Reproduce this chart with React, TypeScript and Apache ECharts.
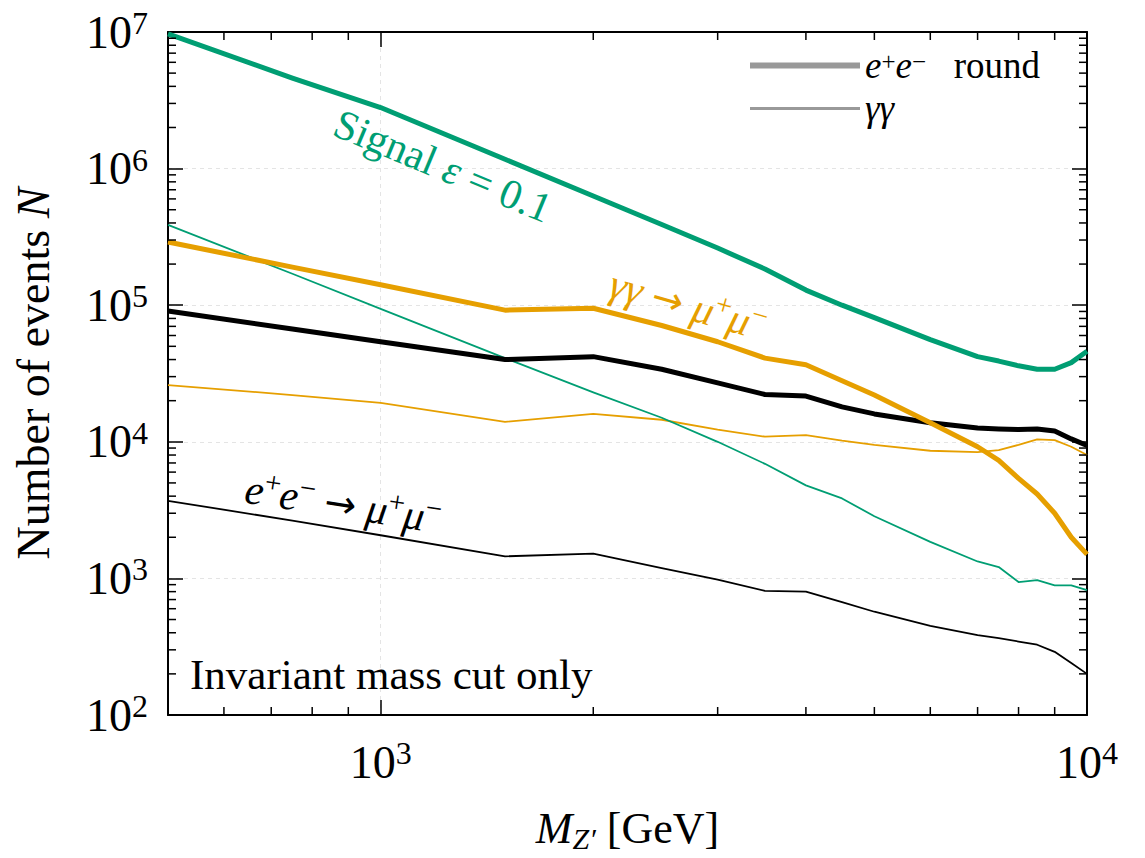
import React, { useEffect, useRef } from 'react';
import * as echarts from 'echarts';

// ---------------- data ----------------
const MASS = [500, 750, 1000, 1500, 2000, 2500, 3000, 3500, 4000, 4500, 5000, 6000, 7000, 7500, 8000, 8500, 9000, 9500, 10000];

// signal, eps = 0.1
const SIGNAL_EE = [9.7e6, 4.6e6, 2.8e6, 1.17e6, 6.3e5, 3.9e5, 2.62e5, 1.84e5, 1.29e5, 1.0e5, 8.1e4, 5.6e4, 4.2e4, 3.9e4, 3.6e4, 3.4e4, 3.4e4, 3.8e4, 4.6e4];
const SIGNAL_GG = [3.87e5, 1.7e5, 9.4e4, 4.1e4, 2.3e4, 1.5e4, 1.0e4, 6.9e3, 4.8e3, 3.85e3, 2.85e3, 1.85e3, 1.33e3, 1.21e3, 9.4e2, 9.7e2, 8.9e2, 8.9e2, 8.2e2];
// gamma gamma -> mu+ mu- background
const GGMM_EE = [2.9e5, 1.9e5, 1.41e5, 9.2e4, 9.5e4, 7.1e4, 5.4e4, 4.1e4, 3.66e4, 2.8e4, 2.2e4, 1.38e4, 9.2e3, 7.3e3, 5.4e3, 4.15e3, 3.0e3, 2.0e3, 1.5e3];
const GGMM_GG = [2.6e4, 2.2e4, 1.93e4, 1.4e4, 1.6e4, 1.45e4, 1.23e4, 1.09e4, 1.12e4, 1.02e4, 9.5e3, 8.6e3, 8.4e3, 8.7e3, 9.5e3, 1.04e4, 1.03e4, 9.2e3, 8.0e3];
// e+ e- -> mu+ mu- background
const EEMM_EE = [9.06e4, 6.7e4, 5.4e4, 4.0e4, 4.2e4, 3.4e4, 2.7e4, 2.22e4, 2.16e4, 1.8e4, 1.6e4, 1.38e4, 1.26e4, 1.24e4, 1.23e4, 1.24e4, 1.2e4, 1.05e4, 9.4e3];
const EEMM_GG = [3.7e3, 2.65e3, 2.07e3, 1.45e3, 1.52e3, 1.19e3, 9.8e2, 8.1e2, 8.0e2, 6.7e2, 5.7e2, 4.5e2, 3.85e2, 3.65e2, 3.45e2, 3.27e2, 2.9e2, 2.4e2, 2.0e2];

const X_MIN = 500;
const X_MAX = 10000;
const Y_MIN = 100;
const Y_MAX = 1e7;
const X_MINOR_TICKS = [600, 700, 800, 900, 2000, 3000, 4000, 5000, 6000, 7000, 8000, 9000];
const Y_MINOR_MULT = [2, 3, 4, 5, 6, 7, 8, 9];
const Y_DECADES = [100, 1000, 10000, 100000, 1000000];

// ---------------- styles ----------------
const FONT = "'Liberation Serif', 'DejaVu Serif', serif";
const ARROW_FONT = "'DejaVu Sans', 'DejaVu Serif', sans-serif";
const GREEN = '#009E73';
const ORANGE = '#E69F00';
const BLACK = '#000000';
const GRAY = '#999999';
const THICK = 5;
const THIN = 1.8;

const pairs = (ys: number[]) => MASS.map((m, i) => [m, ys[i]]);

const powerLabel = (v: number) => {
  const l = Math.log10(v);
  const e = Math.round(l);
  if (Math.abs(l - e) > 1e-6) return '';
  return `{b|10}{s|${e}}`;
};

const tickRich = {
  b: { fontFamily: FONT, fontSize: 46, lineHeight: 50, color: '#000' },
  s: { fontFamily: FONT, fontSize: 32, lineHeight: 24, verticalAlign: 'top', color: '#000' },
};

const txt = (color: string, size: number, lh: number = size + 8) => ({
  r: { fontFamily: FONT, fontSize: size, lineHeight: lh, fill: color, color },
  i: { fontFamily: FONT, fontStyle: 'italic', fontSize: size, lineHeight: lh, fill: color, color },
  a: { fontFamily: ARROW_FONT, fontSize: Math.round(size * 0.9), lineHeight: lh, fill: color, color },
  p: { fontFamily: FONT, fontSize: Math.round(size * 0.68), lineHeight: Math.round(size * 0.5), verticalAlign: 'top', fill: color, color },
});

const lineSeries = (name: string, ys: number[], color: string, width: number) => ({
  name,
  type: 'line',
  data: pairs(ys),
  showSymbol: false,
  symbol: 'none',
  color,
  lineStyle: { color, width, join: 'round' },
  z: 3,
});

const yMinor = Y_DECADES.flatMap((d) => Y_MINOR_MULT.map((m) => m * d));

export default function App() {
  const ref = useRef<HTMLDivElement>(null);

  useEffect(() => {
    if (!ref.current) return;
    const chart = echarts.init(ref.current, null, { renderer: 'svg' });

    const axisLine = { show: true, lineStyle: { color: '#000', width: 2 } };
    const axisTick = { show: true, inside: true, length: 15, lineStyle: { color: '#000', width: 1.5 } };
    const splitLine = { show: true, lineStyle: { color: '#e4e4e4', width: 1, type: [4, 4] } };

    const option: any = {
      animation: false,
      backgroundColor: '#fff',
      grid: { left: 168, right: 58, top: 32, bottom: 139 },
      xAxis: [
        {
          type: 'log',
          logBase: 10,
          min: X_MIN,
          max: X_MAX,
          position: 'bottom',
          axisLine,
          axisTick,
          splitLine,
          axisLabel: { formatter: powerLabel, rich: tickRich, margin: 22 },
          name: '{i|M}{z|Z′}{r| [GeV]}',
          nameLocation: 'middle',
          nameGap: 88,
          nameTextStyle: {
            rich: {
              i: { fontFamily: FONT, fontStyle: 'italic', fontSize: 44, lineHeight: 50, color: '#000' },
              z: { fontFamily: FONT, fontStyle: 'italic', fontSize: 30, lineHeight: 30, verticalAlign: 'bottom', color: '#000' },
              r: { fontFamily: FONT, fontSize: 44, lineHeight: 50, color: '#000' },
            },
          },
        },
        {
          type: 'log',
          logBase: 10,
          min: X_MIN,
          max: X_MAX,
          position: 'top',
          axisLine,
          axisTick,
          splitLine: { show: false },
          axisLabel: { show: false },
        },
      ],
      yAxis: [
        {
          type: 'log',
          logBase: 10,
          min: Y_MIN,
          max: Y_MAX,
          position: 'left',
          axisLine,
          axisTick,
          splitLine,
          axisLabel: { formatter: powerLabel, rich: tickRich, margin: 20 },
          name: '{r|Number of events }{i|N}',
          nameLocation: 'middle',
          nameGap: 110,
          nameTextStyle: {
            rich: {
              r: { fontFamily: FONT, fontSize: 46, lineHeight: 50, color: '#000' },
              i: { fontFamily: FONT, fontStyle: 'italic', fontSize: 46, lineHeight: 50, color: '#000' },
            },
          },
        },
        {
          type: 'log',
          logBase: 10,
          min: Y_MIN,
          max: Y_MAX,
          position: 'right',
          axisLine,
          axisTick,
          splitLine: { show: false },
          axisLabel: { show: false },
        },
      ],
      legend: [
        {
          left: 745,
          top: 42,
          selectedMode: false,
          data: [{ name: 'ee round', icon: 'rect' }],
          itemWidth: 110,
          itemHeight: 6,
          formatter: () => '{i|e}{p|+}{i|e}{p|−}{r|   round}',
          textStyle: { rich: txt('#000', 37, 34) },
        },
        {
          left: 745,
          top: 85,
          selectedMode: false,
          data: [{ name: 'gamma gamma', icon: 'rect' }],
          itemWidth: 110,
          itemHeight: 3,
          formatter: () => '{i|γγ}',
          textStyle: { rich: txt('#000', 37, 34) },
        },
      ],
      series: [
        { name: 'ee round', type: 'line', data: [], color: GRAY, lineStyle: { width: 6 } },
        { name: 'gamma gamma', type: 'line', data: [], color: GRAY, lineStyle: { width: 3 } },
        lineSeries('e+e- -> mu+mu- (gamma gamma)', EEMM_GG, BLACK, THIN),
        lineSeries('gamma gamma -> mu+mu- (gamma gamma)', GGMM_GG, ORANGE, THIN),
        lineSeries('Signal (gamma gamma)', SIGNAL_GG, GREEN, THIN),
        lineSeries('e+e- -> mu+mu- (e+e- round)', EEMM_EE, BLACK, THICK),
        lineSeries('gamma gamma -> mu+mu- (e+e- round)', GGMM_EE, ORANGE, THICK),
        lineSeries('Signal (e+e- round)', SIGNAL_EE, GREEN, THICK),
        {
          name: 'y minor ticks',
          type: 'custom',
          silent: true,
          clip: false,
          z: 6,
          data: yMinor.map((v) => [X_MIN, v]),
          renderItem: (_p: any, api: any) => {
            const a = api.coord([api.value(0), api.value(1)]);
            const b = api.coord([X_MAX, api.value(1)]);
            const st = { stroke: '#000', lineWidth: 1.5 };
            return {
              type: 'group',
              children: [
                { type: 'line', shape: { x1: a[0], y1: a[1], x2: a[0] + 8, y2: a[1] }, style: st },
                { type: 'line', shape: { x1: b[0] - 8, y1: b[1], x2: b[0], y2: b[1] }, style: st },
              ],
            };
          },
        },
        {
          name: 'x minor ticks',
          type: 'custom',
          silent: true,
          clip: false,
          z: 6,
          data: X_MINOR_TICKS.map((v) => [v, Y_MIN]),
          renderItem: (_p: any, api: any) => {
            const a = api.coord([api.value(0), api.value(1)]);
            const b = api.coord([api.value(0), Y_MAX]);
            const st = { stroke: '#000', lineWidth: 1.5 };
            return {
              type: 'group',
              children: [
                { type: 'line', shape: { x1: a[0], y1: a[1], x2: a[0], y2: a[1] - 8 }, style: st },
                { type: 'line', shape: { x1: b[0], y1: b[1], x2: b[0], y2: b[1] + 8 }, style: st },
              ],
            };
          },
        },
      ],
      graphic: [
        {
          type: 'text',
          x: 443,
          y: 166,
          rotation: (-22.6 * Math.PI) / 180,
          silent: true,
          z: 10,
          style: {
            text: '{r|Signal }{i|ε}{r| = 0.1}',
            rich: txt(GREEN, 42),
            align: 'center',
            verticalAlign: 'middle',
          },
        },
        {
          type: 'text',
          x: 688,
          y: 305,
          rotation: (-16 * Math.PI) / 180,
          silent: true,
          z: 10,
          style: {
            text: '{i|γγ}{r| }{a|→}{r| }{i|μ}{p|+}{i|μ}{p|−}',
            rich: txt(ORANGE, 42),
            align: 'center',
            verticalAlign: 'middle',
          },
        },
        {
          type: 'text',
          x: 343,
          y: 504,
          rotation: (-9 * Math.PI) / 180,
          silent: true,
          z: 10,
          style: {
            text: '{i|e}{p|+}{i|e}{p|−}{r| }{a|→}{r| }{i|μ}{p|+}{i|μ}{p|−}',
            rich: txt(BLACK, 42),
            align: 'center',
            verticalAlign: 'middle',
          },
        },
        {
          type: 'text',
          x: 190,
          y: 674,
          silent: true,
          z: 10,
          style: {
            text: 'Invariant mass cut only',
            fontFamily: FONT,
            fontSize: 43,
            fill: '#000',
            align: 'left',
            verticalAlign: 'middle',
          },
        },
      ],
    };

    chart.setOption(option);
    return () => chart.dispose();
  }, []);

  return (
    <div
      ref={ref}
      style={{ position: 'absolute', left: 0, top: 0, width: 1145, height: 858, background: '#fff' }}
    />
  );
}
